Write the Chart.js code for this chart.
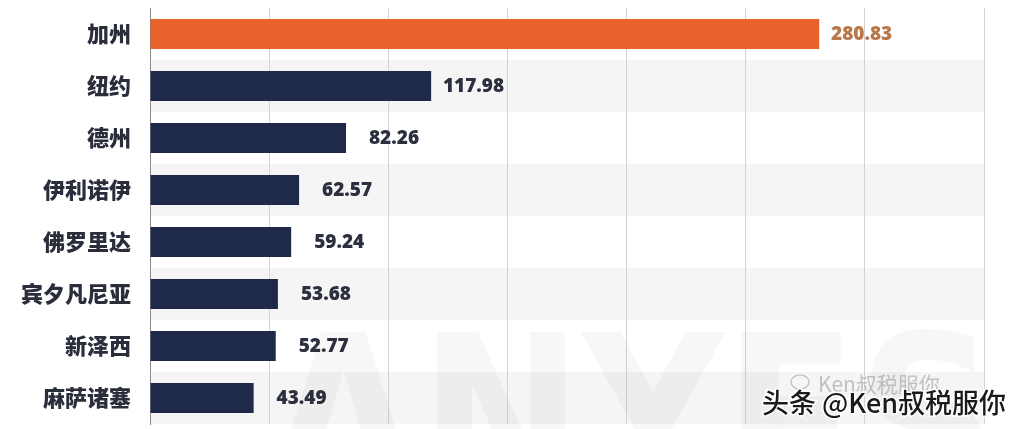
<!DOCTYPE html>
<html>
<head>
<meta charset="utf-8">
<script src="https://cdn.jsdelivr.net/npm/chart.js@4"></script>
<style>
  html, body { margin: 0; padding: 0; background: #ffffff; }
  #wrap { width: 1013px; height: 429px; position: relative; }
</style>
</head>
<body>
<div id="wrap"><canvas id="stateChart"></canvas></div>
<script>
const states = ['加州', '纽约', '德州', '伊利诺伊', '佛罗里达', '宾夕凡尼亚', '新泽西', '麻萨诸塞'];
const values = [280.83, 117.98, 82.26, 62.57, 59.24, 53.68, 52.77, 43.49];
const axisMax = 350;
const axisStep = 50;

const orange = '#e8632b';
const navy = '#1f2a4b';
const barColors = values.map((v, i) => (i === 0 ? orange : navy));
const labelColors = values.map((v, i) => (i === 0 ? '#b8784a' : '#2b2f3e'));

// light bands behind every other row
const rowBands = {
    id: 'rowBands',
    beforeDraw(chart) {
        const { ctx, chartArea, scales } = chart;
        const y = scales.y;
        const half = (y.getPixelForValue(1) - y.getPixelForValue(0)) / 2;
        ctx.save();
        ctx.fillStyle = '#f5f5f5';
        states.forEach((s, i) => {
            if (i % 2 === 1) {
                const c = y.getPixelForValue(i);
                ctx.fillRect(chartArea.left, c - half, chartArea.right - chartArea.left, half * 2);
            }
        });
        ctx.restore();
    },
    beforeDatasetsDraw(chart) {
        // faint logo watermark
        const { ctx } = chart;
        ctx.save();
        ctx.font = '900 230px "DejaVu Sans"';
        const w = ctx.measureText('ANYES').width;
        const scale = 730 / w;
        ctx.translate(268, 500);
        ctx.scale(scale, 1);
        ctx.fillStyle = 'rgba(0,0,0,0.03)';
        ctx.fillText('ANYES', 0, 0);
        ctx.restore();
    }
};

// value labels right-aligned a fixed distance past each bar
const valueLabels = {
    id: 'valueLabels',
    afterDatasetsDraw(chart) {
        const { ctx } = chart;
        const meta = chart.getDatasetMeta(0);
        ctx.save();
        ctx.font = '800 19px "Open Sans"';
        ctx.textAlign = 'right';
        ctx.textBaseline = 'middle';
        meta.data.forEach((bar, i) => {
            ctx.fillStyle = labelColors[i];
            ctx.fillText(values[i].toFixed(2), bar.x + 73, bar.y + 1);
        });
        ctx.restore();
    },
    afterDraw(chart) {
        const { ctx } = chart;
        ctx.save();
        ctx.textBaseline = 'alphabetic';
        ctx.textAlign = 'left';
        ctx.font = '21px "Noto Sans CJK SC"';
        ctx.fillStyle = 'rgba(150,150,150,0.55)';
        ctx.fillText('Ken叔税服你', 818, 392);
        ctx.strokeStyle = 'rgba(150,150,150,0.6)';
        ctx.lineWidth = 1.2;
        ctx.beginPath();
        ctx.ellipse(800, 382, 9, 7, 0, 0, Math.PI * 2);
        ctx.stroke();
        ctx.font = '500 27px "Noto Sans CJK SC"';
        ctx.lineWidth = 3;
        ctx.strokeStyle = '#ffffff';
        ctx.strokeText('头条 @Ken叔税服你', 762, 413);
        ctx.fillStyle = '#1a1a1a';
        ctx.fillText('头条 @Ken叔税服你', 762, 413);
        ctx.restore();
    }
};

new Chart(document.getElementById('stateChart'), {
    type: 'bar',
    data: {
        labels: states,
        datasets: [{
            data: values,
            backgroundColor: barColors,
            categoryPercentage: 1,
            barPercentage: 0.58,
        }],
    },
    options: {
        indexAxis: 'y',
        responsive: true,
        maintainAspectRatio: false,
        animation: false,
        layout: { padding: { top: 8, bottom: 5, left: 0, right: 29 } },
        plugins: {
            legend: { display: false },
            tooltip: { enabled: false },
        },
        scales: {
            x: {
                min: 0,
                max: axisMax,
                afterFit(scale) { scale.height = 0; },
                ticks: { display: false, stepSize: axisStep },
                grid: { color: '#d4d4d4', drawTicks: false, lineWidth: 1 },
                border: { display: false },
            },
            y: {
                afterFit(scale) {
                    scale.width = 150;
                    scale.paddingTop = 0;
                    scale.paddingBottom = 0;
                },
                grid: { display: false, drawTicks: false },
                border: { color: '#8a8a8a', width: 1 },
                ticks: {
                    padding: 19,
                    color: '#2a2d3a',
                    font: { family: '"Noto Sans CJK SC"', size: 22, weight: 900 },
                },
            },
        },
    },
    plugins: [rowBands, valueLabels],
});
</script>
</body>
</html>
